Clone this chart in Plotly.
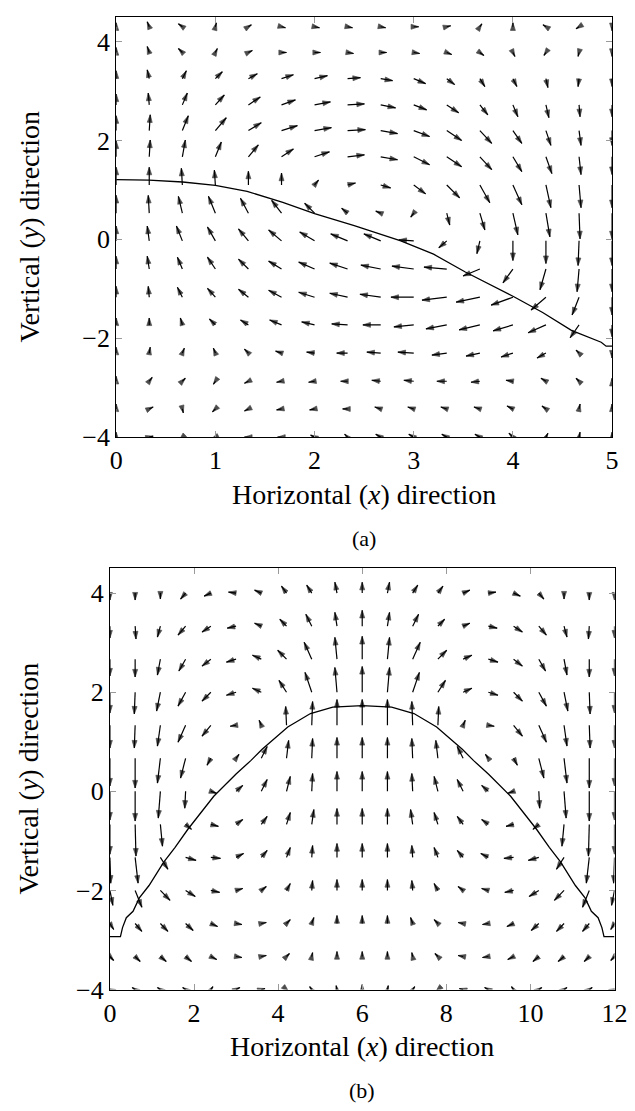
import plotly.graph_objects as go

# ---------------- data: panel (a) ----------------
XA = [0, 0.333, 0.667, 1.0, 1.333, 1.667, 2.0, 2.333, 2.667, 3.0, 3.333, 3.667, 4.0, 4.333, 4.667, 5.0]
YA = [-4.0, -3.43, -2.87, -2.3, -1.73, -1.17, -0.6, -0.03, 0.53, 1.1, 1.67, 2.2, 2.72, 3.25, 3.78, 4.3]

UA = [
    [0.00, 0.04, -0.03, -0.04, -0.04, -0.04, -0.04, -0.03, -0.05, -0.05, -0.05, -0.05, -0.04, 0.02, 0.01, 0.00],
    [0.00, 0.04, 0.01, -0.03, -0.04, -0.05, -0.05, -0.05, -0.06, -0.06, -0.06, -0.06, -0.06, -0.04, 0.01, 0.00],
    [0.00, 0.03, 0.03, -0.02, -0.04, -0.05, -0.06, -0.07, -0.09, -0.10, -0.10, -0.09, -0.07, -0.05, -0.03, 0.00],
    [0.00, 0.01, 0.02, -0.02, -0.04, -0.06, -0.08, -0.11, -0.14, -0.16, -0.15, -0.14, -0.12, -0.09, -0.03, 0.00],
    [0.00, 0.00, -0.02, -0.06, -0.08, -0.12, -0.13, -0.16, -0.18, -0.20, -0.21, -0.21, -0.20, -0.18, -0.09, 0.00],
    [0.00, -0.01, -0.05, -0.08, -0.10, -0.13, -0.16, -0.18, -0.21, -0.23, -0.25, -0.24, -0.22, -0.15, -0.07, 0.00],
    [0.00, -0.02, -0.05, -0.08, -0.10, -0.13, -0.16, -0.18, -0.20, -0.22, -0.23, -0.17, -0.10, -0.06, -0.02, 0.00],
    [0.00, -0.02, -0.06, -0.08, -0.10, -0.13, -0.15, -0.17, -0.17, -0.15, -0.08, -0.03, 0.00, 0.00, -0.01, 0.00],
    [0.00, -0.01, -0.04, -0.07, -0.08, -0.10, -0.10, -0.06, -0.05, -0.03, 0.03, 0.05, 0.05, 0.04, 0.01, 0.00],
    [0.00, 0.00, -0.01, -0.01, 0.00, 0.00, 0.04, 0.08, 0.10, 0.12, 0.13, 0.10, 0.09, 0.05, 0.02, 0.00],
    [0.00, 0.01, 0.03, 0.06, 0.10, 0.12, 0.15, 0.17, 0.17, 0.16, 0.15, 0.12, 0.09, 0.06, 0.02, 0.00],
    [0.00, 0.01, 0.06, 0.11, 0.13, 0.16, 0.17, 0.18, 0.17, 0.16, 0.15, 0.12, 0.09, 0.05, 0.02, 0.00],
    [0.00, -0.01, 0.05, 0.09, 0.12, 0.14, 0.16, 0.17, 0.15, 0.13, 0.12, 0.08, 0.05, 0.03, 0.01, 0.00],
    [0.00, -0.02, 0.04, 0.07, 0.09, 0.12, 0.13, 0.13, 0.12, 0.12, 0.08, 0.05, 0.04, 0.02, -0.01, 0.00],
    [0.00, -0.02, -0.04, 0.02, 0.04, 0.05, 0.06, 0.06, 0.06, 0.06, 0.05, 0.04, 0.02, -0.02, -0.01, 0.00],
    [0.00, -0.02, -0.04, 0.01, 0.03, 0.04, 0.05, 0.05, 0.05, 0.05, 0.04, 0.02, 0.00, -0.03, -0.03, 0.00],
]
VA = [
    [0.10, 0.02, -0.06, -0.04, 0.00, 0.00, 0.04, 0.06, 0.06, 0.06, 0.06, 0.06, 0.08, 0.08, 0.10, 0.10],
    [0.10, 0.04, -0.08, -0.06, -0.04, -0.02, -0.02, 0.00, 0.04, 0.04, 0.04, 0.04, 0.06, 0.06, 0.10, 0.10],
    [0.10, 0.08, 0.06, -0.06, -0.04, -0.02, -0.02, 0.00, 0.02, 0.02, 0.00, -0.02, 0.02, 0.06, 0.06, 0.06],
    [0.12, 0.12, 0.10, 0.10, 0.08, 0.04, 0.02, 0.00, 0.02, 0.02, -0.04, -0.06, -0.08, -0.10, 0.06, -0.10],
    [0.14, 0.14, 0.14, 0.12, 0.10, 0.10, 0.06, 0.02, 0.00, -0.04, -0.08, -0.10, -0.12, -0.16, -0.26, -0.24],
    [0.22, 0.22, 0.20, 0.18, 0.16, 0.14, 0.10, 0.08, 0.06, 0.00, -0.06, -0.10, -0.16, -0.26, -0.36, -0.36],
    [0.26, 0.26, 0.24, 0.24, 0.20, 0.16, 0.14, 0.12, 0.08, 0.06, 0.04, -0.14, -0.28, -0.42, -0.46, -0.46],
    [0.30, 0.30, 0.30, 0.28, 0.24, 0.22, 0.18, 0.14, 0.14, 0.02, -0.14, -0.26, -0.40, -0.46, -0.50, -0.50],
    [0.36, 0.36, 0.34, 0.34, 0.30, 0.26, 0.20, 0.10, 0.04, -0.08, -0.24, -0.34, -0.44, -0.48, -0.52, -0.52],
    [0.36, 0.36, 0.34, 0.30, 0.28, 0.24, 0.10, 0.04, -0.06, -0.18, -0.26, -0.36, -0.40, -0.46, -0.46, -0.46],
    [0.32, 0.34, 0.34, 0.30, 0.24, 0.16, 0.10, 0.04, -0.06, -0.16, -0.20, -0.26, -0.30, -0.34, -0.36, -0.36],
    [0.30, 0.32, 0.30, 0.26, 0.16, 0.10, 0.06, 0.02, -0.06, -0.12, -0.20, -0.26, -0.26, -0.30, -0.30, -0.30],
    [0.22, 0.24, 0.24, 0.20, 0.16, 0.10, 0.06, 0.02, -0.06, -0.10, -0.16, -0.20, -0.24, -0.26, -0.24, -0.24],
    [0.16, 0.18, 0.16, 0.14, 0.10, 0.08, 0.06, 0.02, -0.04, -0.10, -0.12, -0.16, -0.16, -0.18, -0.16, -0.16],
    [0.10, 0.12, 0.08, 0.08, 0.04, 0.00, 0.00, -0.02, 0.00, -0.02, -0.04, -0.06, -0.08, -0.06, -0.08, -0.08],
    [0.08, 0.10, 0.06, 0.08, 0.04, -0.02, -0.02, -0.02, -0.02, 0.00, 0.02, 0.06, 0.08, 0.04, -0.04, -0.08],
]
CURVE_A_X = [0, 0.33, 0.67, 1.0, 1.32, 1.68, 2.0, 2.4, 2.87, 3.2, 3.52, 4.01, 4.3, 4.59, 4.89, 4.94, 5.0]
CURVE_A_Y = [1.21, 1.2, 1.16, 1.09, 0.97, 0.75, 0.52, 0.28, -0.03, -0.3, -0.66, -1.16, -1.48, -1.84, -2.08, -2.16, -2.16]

# ---------------- data: panel (b) ----------------
XB = [0, 0.6, 1.2, 1.8, 2.4, 3.0, 3.6, 4.2, 4.8, 5.4, 6.0, 6.6, 7.2, 7.8, 8.4, 9.0, 9.6, 10.2, 10.8, 11.4, 12.0]
YB = [-4.0, -3.333, -2.667, -2.0, -1.333, -0.667, 0.0, 0.667, 1.333, 2.0, 2.667, 3.333, 4.0, 4.667]

UB = [
    [-0.05, -0.07, -0.07, -0.07, 0.05, 0.09, 0.09, 0.05, -0.05, -0.02, 0.00, 0.02, 0.05, -0.05, -0.09, -0.09, -0.05, 0.07, 0.07, 0.07, 0.05],
    [0.09, 0.12, 0.14, 0.14, 0.14, 0.14, 0.12, 0.07, 0.02, 0.00, 0.00, 0.00, -0.02, -0.07, -0.12, -0.14, -0.14, -0.14, -0.14, -0.12, -0.09],
    [0.09, 0.16, 0.18, 0.18, 0.16, 0.14, 0.12, 0.09, 0.05, 0.00, 0.00, 0.00, -0.05, -0.09, -0.12, -0.14, -0.16, -0.18, -0.18, -0.16, -0.09],
    [0.07, 0.16, 0.23, 0.23, 0.21, 0.16, 0.12, 0.09, 0.02, 0.00, 0.00, 0.00, -0.02, -0.09, -0.12, -0.16, -0.21, -0.23, -0.23, -0.16, -0.07],
    [0.02, 0.07, 0.18, 0.25, 0.23, 0.18, 0.14, 0.09, 0.02, 0.00, 0.00, 0.00, -0.02, -0.09, -0.14, -0.18, -0.23, -0.25, -0.18, -0.07, -0.02],
    [0.00, 0.02, 0.05, 0.14, 0.18, 0.16, 0.14, 0.09, 0.05, 0.00, 0.00, 0.00, -0.05, -0.09, -0.14, -0.16, -0.18, -0.14, -0.05, -0.02, 0.00],
    [0.00, 0.00, -0.05, -0.02, 0.14, 0.16, 0.14, 0.09, 0.02, 0.00, 0.00, 0.00, -0.02, -0.09, -0.14, -0.16, -0.14, 0.02, 0.05, 0.00, 0.00],
    [0.00, 0.00, -0.07, -0.12, -0.09, 0.07, 0.14, 0.05, 0.02, 0.00, 0.00, 0.00, -0.02, -0.05, -0.14, -0.07, 0.09, 0.12, 0.07, 0.00, 0.00],
    [0.00, -0.02, -0.07, -0.18, -0.21, -0.14, -0.05, -0.02, 0.02, 0.00, 0.00, 0.00, -0.02, 0.02, 0.05, 0.14, 0.21, 0.18, 0.07, 0.02, 0.00],
    [0.00, -0.02, -0.09, -0.18, -0.21, -0.23, -0.21, -0.18, -0.16, -0.05, 0.00, 0.05, 0.16, 0.18, 0.21, 0.23, 0.21, 0.18, 0.09, 0.02, 0.00],
    [0.00, 0.00, -0.07, -0.16, -0.21, -0.23, -0.21, -0.21, -0.18, -0.05, 0.00, 0.05, 0.18, 0.21, 0.21, 0.23, 0.21, 0.16, 0.07, 0.00, 0.00],
    [0.00, 0.02, -0.07, -0.18, -0.21, -0.21, -0.16, -0.16, -0.14, -0.05, 0.00, 0.05, 0.14, 0.16, 0.16, 0.21, 0.21, 0.18, 0.07, -0.02, 0.00],
    [0.00, 0.00, 0.00, -0.12, -0.16, -0.18, -0.16, -0.12, -0.12, -0.05, 0.00, 0.05, 0.12, 0.12, 0.16, 0.18, 0.16, 0.12, 0.00, 0.00, 0.00],
    [0.02, 0.02, 0.00, -0.09, -0.16, -0.18, -0.16, -0.12, -0.09, -0.05, 0.00, 0.05, 0.09, 0.12, 0.16, 0.18, 0.16, 0.09, 0.00, -0.02, -0.02],
]
VB = [
    [0.02, 0.04, 0.04, 0.04, 0.06, 0.04, 0.02, -0.04, 0.06, 0.08, 0.10, 0.08, 0.06, -0.04, 0.02, 0.04, 0.06, 0.04, 0.04, 0.04, 0.02],
    [-0.08, -0.10, -0.10, -0.10, -0.06, -0.02, 0.02, 0.06, 0.08, 0.10, 0.10, 0.10, 0.08, 0.06, 0.02, -0.02, -0.06, -0.10, -0.10, -0.10, -0.08],
    [-0.12, -0.16, -0.16, -0.14, -0.06, -0.02, 0.02, 0.08, 0.12, 0.16, 0.16, 0.16, 0.12, 0.08, 0.02, -0.02, -0.06, -0.14, -0.16, -0.16, -0.12],
    [-0.30, -0.34, -0.20, -0.12, -0.04, 0.04, 0.08, 0.14, 0.20, 0.22, 0.22, 0.22, 0.20, 0.14, 0.08, 0.04, -0.04, -0.12, -0.20, -0.34, -0.30],
    [-0.52, -0.52, -0.24, -0.06, -0.02, 0.08, 0.14, 0.20, 0.24, 0.28, 0.28, 0.28, 0.24, 0.20, 0.14, 0.08, -0.02, -0.06, -0.24, -0.52, -0.52],
    [-0.60, -0.64, -0.44, -0.10, -0.04, 0.10, 0.16, 0.24, 0.30, 0.32, 0.32, 0.32, 0.30, 0.24, 0.16, 0.10, -0.04, -0.10, -0.44, -0.64, -0.60],
    [-0.58, -0.60, -0.54, -0.34, -0.04, 0.12, 0.24, 0.30, 0.36, 0.40, 0.40, 0.40, 0.36, 0.30, 0.24, 0.12, -0.04, -0.34, -0.54, -0.60, -0.58],
    [-0.56, -0.60, -0.50, -0.40, -0.14, 0.08, 0.24, 0.36, 0.40, 0.42, 0.42, 0.42, 0.40, 0.36, 0.24, 0.08, -0.14, -0.40, -0.50, -0.60, -0.56],
    [-0.46, -0.46, -0.42, -0.34, -0.22, -0.02, 0.10, 0.38, 0.48, 0.52, 0.52, 0.52, 0.48, 0.38, 0.10, -0.02, -0.22, -0.34, -0.42, -0.46, -0.46],
    [-0.42, -0.44, -0.38, -0.28, -0.18, -0.06, 0.08, 0.24, 0.40, 0.50, 0.52, 0.50, 0.40, 0.24, 0.08, -0.06, -0.18, -0.28, -0.38, -0.44, -0.42],
    [-0.34, -0.36, -0.32, -0.24, -0.14, -0.06, 0.08, 0.18, 0.34, 0.44, 0.46, 0.44, 0.34, 0.18, 0.08, -0.06, -0.14, -0.24, -0.32, -0.36, -0.34],
    [-0.24, -0.26, -0.22, -0.18, -0.12, -0.04, 0.06, 0.14, 0.24, 0.28, 0.32, 0.28, 0.24, 0.14, 0.06, -0.04, -0.12, -0.18, -0.22, -0.26, -0.24],
    [-0.14, -0.14, -0.12, -0.12, -0.06, 0.02, 0.06, 0.14, 0.16, 0.22, 0.22, 0.22, 0.16, 0.14, 0.06, 0.02, -0.06, -0.12, -0.12, -0.14, -0.14],
    [-0.16, -0.16, -0.14, -0.12, -0.06, 0.02, 0.06, 0.12, 0.14, 0.18, 0.18, 0.18, 0.14, 0.12, 0.06, 0.02, -0.06, -0.12, -0.14, -0.16, -0.16],
]
CURVE_B_X = [0, 0.25, 0.3, 0.39, 0.55, 0.7, 0.93, 1.28, 1.55, 1.85, 2.47, 3.0, 3.35, 3.62, 4.23, 4.77, 5.3, 6.0,
             6.7, 7.23, 7.77, 8.38, 8.65, 9.0, 9.53, 10.15, 10.45, 10.72, 11.07, 11.3, 11.45, 11.61, 11.7, 11.75, 12.0]
CURVE_B_Y = [-2.93, -2.93, -2.75, -2.55, -2.42, -2.15, -1.9, -1.43, -1.13, -0.77, -0.1, 0.35, 0.62, 0.85, 1.3, 1.57, 1.7, 1.73,
             1.7, 1.57, 1.3, 0.85, 0.62, 0.35, -0.1, -0.77, -1.13, -1.43, -1.9, -2.15, -2.42, -2.55, -2.75, -2.93, -2.93]

X_TICKS_A = [0, 1, 2, 3, 4, 5]
X_TICKS_B = [0, 2, 4, 6, 8, 10, 12]
Y_TICKS = [-4, -2, 0, 2, 4]

# ---------------- figure ----------------
W, H = 635, 1111
FONT = "'Liberation Serif', 'DejaVu Serif', serif"
HEAD = 8


def quiver(xs, ys, U, V, xa, ya):
    X, Y, S = [], [], []
    for j, y in enumerate(ys):
        for i, x in enumerate(xs):
            X += [x, x + U[j][i], None]
            Y += [y, y + V[j][i], None]
            S += [0, HEAD, 0]
    return go.Scatter(
        x=X, y=Y, mode="lines+markers", xaxis=xa, yaxis=ya,
        line=dict(color="black", width=1.2, backoff=0),
        marker=dict(symbol="arrow", size=S, color="black", angleref="previous",
                    line=dict(width=0.7, color="black")),
        hoverinfo="skip", showlegend=False, cliponaxis=True,
    )


fig = go.Figure()
fig.add_trace(quiver(XA, YA, UA, VA, "x", "y"))
fig.add_trace(go.Scatter(x=CURVE_A_X, y=CURVE_A_Y, mode="lines", line=dict(color="black", width=1.3),
                         xaxis="x", yaxis="y", hoverinfo="skip", showlegend=False))
fig.add_trace(quiver(XB, YB, UB, VB, "x2", "y2"))
fig.add_trace(go.Scatter(x=CURVE_B_X, y=CURVE_B_Y, mode="lines", line=dict(color="black", width=1.3),
                         xaxis="x2", yaxis="y2", hoverinfo="skip", showlegend=False))

ax_common = dict(showgrid=False, zeroline=False, showline=True, linecolor="black", linewidth=1,
                 mirror="allticks", ticks="inside", ticklen=6, tickwidth=1, tickcolor="#9a9a9a",
                 tickfont=dict(family=FONT, size=26, color="black"), fixedrange=True)

# pixel geometry of the two frames
A_L, A_R, A_T, A_B = 104.5, 616.5, 9, 435
B_L, B_R, B_T, B_B = 98, 619, 568, 995

fig.update_layout(
    width=W, height=H, margin=dict(l=0, r=0, t=0, b=0),
    paper_bgcolor="white", plot_bgcolor="white",
    font=dict(family=FONT),
    xaxis=dict(domain=[A_L / W, A_R / W], range=[0, 5], tickvals=X_TICKS_A, anchor="y", **ax_common),
    yaxis=dict(domain=[1 - A_B / H, 1 - A_T / H], range=[-4, 4.5], tickvals=Y_TICKS, anchor="x", **ax_common),
    xaxis2=dict(domain=[B_L / W, B_R / W], range=[0, 12], tickvals=X_TICKS_B, anchor="y2", **ax_common),
    yaxis2=dict(domain=[1 - B_B / H, 1 - B_T / H], range=[-4, 4.5], tickvals=Y_TICKS, anchor="x2", **ax_common),
)


def label(text, xpx, ypx, angle=0, size=28):
    fig.add_annotation(text=text, x=xpx / W, y=1 - ypx / H, xref="paper", yref="paper",
                       showarrow=False, textangle=angle, xanchor="center", yanchor="middle",
                       font=dict(family=FONT, size=size, color="black"))


label("Horizontal (<i>x</i>) direction", (A_L + A_R) / 2, 493)
label("Vertical (<i>y</i>) direction", 14, (A_T + A_B) / 2, angle=-90)
label("(a)", (A_L + A_R) / 2, 538, size=22)
label("Horizontal (<i>x</i>) direction", (B_L + B_R) / 2, 1053)
label("Vertical (<i>y</i>) direction", 14, (B_T + B_B) / 2, angle=-90)
label("(b)", (B_L + B_R) / 2, 1097, size=22)

fig.write_html("out.html")
